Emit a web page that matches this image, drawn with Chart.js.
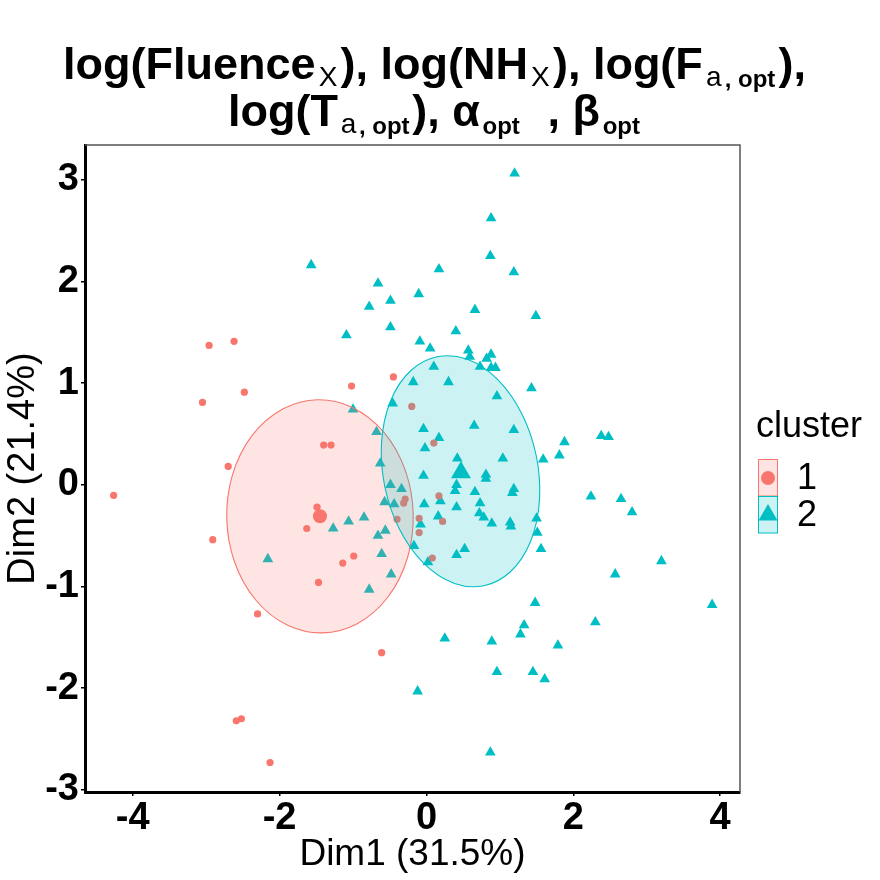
<!DOCTYPE html>
<html>
<head>
<meta charset="utf-8">
<script src="https://cdn.jsdelivr.net/npm/chart.js@4.4.1/dist/chart.umd.min.js"></script>
<style>
  html, body { margin: 0; padding: 0; background: #fff; }
  #wrap { position: relative; width: 880px; height: 880px; }
</style>
</head>
<body>
<div id="wrap"><canvas id="pcaChart" width="880" height="880"></canvas></div>
<script>
// cluster 1 (circles)
const c1x = [-2.96, -2.62, -2.48, -3.05, -1.02, -0.45, -0.20, -1.40, -1.30, -2.70, -4.26, -0.29, -0.31, -0.40, -1.49, -1.63,
    -2.91, -0.99, -1.14, -1.47, -2.30, -0.61, -2.59, -2.52, -2.13, 0.10, 0.17, 0.22, -0.10, -0.10, 0.08];
const c1y = [1.37, 1.41, 0.91, 0.81, 0.97, 1.06, 0.77, 0.39, 0.39, 0.18, -0.105, -0.14, -0.18, -0.34, -0.22, -0.43,
    -0.54, -0.70, -0.77, -0.96, -1.27, -1.65, -2.32, -2.30, -2.73, 0.41, -0.11, -0.36, -0.33, -0.47, -0.72];

// cluster 2 (triangles)
const c2x = [-1.57, -0.66, -0.49, -0.78, -0.49, -1.09, -0.105, 1.20, 0.88, 0.87, 0.17, 1.19, 0.66, 1.49, 0.40, -0.09,
    0.05, 0.57, 0.59, 0.88, 0.82, 0.73, 0.88, 0.94, 0.10, -0.18, 0.30, 1.43, 0.96, -1.00, -0.46, -0.68, -0.63,
    -0.04, 0.65, 1.19, 0.17, -0.02, 2.38, 2.48, 1.88, 1.81, 1.59, 0.42, 1.04,
    -0.04, 0.81, 0.81, 0.41, 0.39, -0.49, -0.34, 0.66, 1.19, 1.17, 0.19, -0.57, -0.44, -0.03, 0.73, 0.41, 0.72,
    0.78, 0.89, 0.16, -0.08, 1.14, 1.15, 1.50, 1.51, 1.56, 0.52, 0.41, -0.17, 0.02,
    -1.27, -1.06, -0.85, -0.66, -0.56, -2.16, -0.61, -0.48, -0.78,
    2.24, 2.65, 2.80, 3.20, 2.57, 3.89, 1.48, 2.30, 1.33, 1.28, 0.25, 0.89, 1.79, 0.96, 1.45, 1.61, -0.12, 0.87];
const c2y = [2.16, 1.98, 1.81, 1.75, 1.55, 1.47, 1.875, 3.06, 2.62, 2.25, 2.12, 2.09, 1.72, 1.66, 1.51, 1.41,
    1.34, 1.32, 1.26, 1.28, 1.24, 1.16, 1.15, 1.15, 1.16, 1.01, 1.01, 0.95, 0.87, 0.74, 0.80, 0.52, 0.21,
    0.55, 0.58, 0.54, 0.46, 0.36, 0.48, 0.47, 0.42, 0.29, 0.25, 0.26, 0.26,
    0.09, 0.10, 0.06, 0.00, -0.06, 0.00, -0.04, -0.07, -0.04, -0.08, -0.16, -0.17, -0.19, -0.19, -0.18, -0.22, -0.28,
    -0.32, -0.38, -0.31, -0.39, -0.37, -0.41, -0.33, -0.47, -0.63, -0.63, -0.69, -0.60, -0.76,
    -0.43, -0.36, -0.32, -0.50, -0.45, -0.73, -0.68, -0.88, -1.03,
    -0.115, -0.14, -0.27, -0.75, -0.88, -1.18, -1.16, -1.35, -1.38, -1.47, -1.51, -1.54, -1.58, -1.84, -1.84, -1.91, -2.03, -2.63];

// cluster centres
const centerX = [-1.45, 0.47];
const centerY = [-0.31, 0.12];

// concentration ellipses: centre, variances and covariance in data units
const ellCx = [-1.45, 0.464];
const ellCy = [-0.31, 0.133];
const ellVarX = [1.613, 1.165];
const ellVarY = [1.313, 1.29];
const ellCov = [-0.015, -0.202];

const xTicks = [-4, -2, 0, 2, 4];
const yTicks = [-3, -2, -1, 0, 1, 2, 3];
const clusterLabels = ["1", "2"];
const colors = ["#F8766D", "#00BFC4"];
const fills = ["rgba(248,118,109,0.2)", "rgba(0,191,196,0.2)"];

const FONT = '"Liberation Sans", Arial, sans-serif';

function pts(xs, ys) {
    return xs.map((x, i) => ({ x: x, y: ys[i] }));
}

// =========================
// ellipses drawn over the points
// =========================
const ellipsePlugin = {
    id: 'ellipses',
    afterDatasetsDraw(chart) {
        const ctx = chart.ctx;
        const xs = chart.scales.x, ys = chart.scales.y;
        const kx = xs.getPixelForValue(1) - xs.getPixelForValue(0);
        const ky = ys.getPixelForValue(0) - ys.getPixelForValue(1);
        ctx.save();
        ctx.beginPath();
        ctx.rect(chart.chartArea.left, chart.chartArea.top, chart.chartArea.width, chart.chartArea.height);
        ctx.clip();
        for (let i = 0; i < ellCx.length; i++) {
            const a = ellVarX[i] * kx * kx;
            const d = ellVarY[i] * ky * ky;
            const b = -ellCov[i] * kx * ky;
            const mid = (a + d) / 2;
            const r = Math.sqrt(((a - d) / 2) ** 2 + b * b);
            const theta = 0.5 * Math.atan2(2 * b, a - d);
            ctx.beginPath();
            ctx.ellipse(xs.getPixelForValue(ellCx[i]), ys.getPixelForValue(ellCy[i]),
                Math.sqrt(mid + r), Math.sqrt(mid - r), theta, 0, Math.PI * 2);
            ctx.fillStyle = fills[i];
            ctx.fill();
            ctx.lineWidth = 1.1;
            ctx.strokeStyle = colors[i];
            ctx.stroke();
        }
        ctx.restore();

        // panel border on top and right
        const ca = chart.chartArea;
        ctx.save();
        ctx.strokeStyle = '#555';
        ctx.lineWidth = 1.5;
        ctx.beginPath();
        ctx.moveTo(ca.left, ca.top);
        ctx.lineTo(ca.right, ca.top);
        ctx.lineTo(ca.right, ca.bottom);
        ctx.stroke();
        ctx.restore();
    }
};

// =========================
// title with subscripts
// =========================
const titleLines = [
    [["log(Fluence", "m"], ["X", "s"], ["), log(NH", "m"], ["X", "s"], ["), log(F", "m"], ["a", "s"], [", opt", "t"], ["),", "m"]],
    [["log(T", "m"], ["a", "s"], [", opt", "t"], ["), α", "m"], ["opt", "t"], ["  , β", "m"], ["opt", "t"]]
];
const titleFonts = {
    m: { font: 'bold 45px ' + FONT, dy: 0 },
    s: { font: '28px ' + FONT, dy: 7 },
    t: { font: 'bold 24px ' + FONT, dy: 8 }
};
const titleSpan = [[63, 806], [228, 640]];
const titleBase = [79, 126];

const titlePlugin = {
    id: 'mathTitle',
    afterDraw(chart) {
        const ctx = chart.ctx;
        ctx.save();
        ctx.fillStyle = '#000';
        ctx.textBaseline = 'alphabetic';
        titleLines.forEach((line, li) => {
            let w = 0;
            line.forEach(([t, k]) => {
                ctx.font = titleFonts[k].font;
                w += ctx.measureText(t).width;
            });
            const [x0, x1] = titleSpan[li];
            const gap = (x1 - x0 - w) / (line.length - 1);
            let x = (x0 + x1) / 2 - (w + gap * (line.length - 1)) / 2;
            line.forEach(([t, k]) => {
                const f = titleFonts[k];
                ctx.font = f.font;
                ctx.fillText(t, x, titleBase[li] + f.dy);
                x += ctx.measureText(t).width + gap;
            });
        });
        ctx.restore();
    }
};

// =========================
// legend: filled key box with symbol
// =========================
const legendPlugin = {
    id: 'clusterLegend',
    afterDraw(chart) {
        const ctx = chart.ctx;
        ctx.save();
        ctx.fillStyle = '#000';
        ctx.font = '36px ' + FONT;
        ctx.textBaseline = 'alphabetic';
        ctx.fillText('cluster', 756, 437);
        clusterLabels.forEach((lab, i) => {
            const top = 459.5 + i * 37;
            ctx.fillStyle = fills[i];
            ctx.fillRect(758.5, top, 19, 36.5);
            ctx.strokeStyle = colors[i];
            ctx.lineWidth = 1;
            ctx.strokeRect(758.5, top, 19, 36.5);
            ctx.fillStyle = colors[i];
            const cx = 768, cy = top + 18.5;
            ctx.beginPath();
            if (i === 0) {
                ctx.arc(cx, cy, 7, 0, Math.PI * 2);
            } else {
                const r = 11;
                ctx.moveTo(cx, cy - r);
                ctx.lineTo(cx + r * Math.sin(Math.PI * 2 / 3), cy + r / 2);
                ctx.lineTo(cx - r * Math.sin(Math.PI * 2 / 3), cy + r / 2);
                ctx.closePath();
            }
            ctx.fill();
            ctx.fillStyle = '#000';
            ctx.font = '36px ' + FONT;
            ctx.textBaseline = 'middle';
            ctx.fillText(lab, 797, cy + 1);
        });
        ctx.restore();
    }
};

const ctxEl = document.getElementById('pcaChart');
new Chart(ctxEl.getContext('2d'), {
    type: 'scatter',
    data: {
        datasets: [
            { label: '1', data: pts(c1x, c1y), pointStyle: 'circle', pointRadius: 3.6, backgroundColor: colors[0], borderWidth: 0 },
            { label: '2', data: pts(c2x, c2y), pointStyle: 'triangle', pointRadius: 6.2, backgroundColor: colors[1], borderWidth: 0 },
            { label: 'c1', data: [{ x: centerX[0], y: centerY[0] }], pointStyle: 'circle', pointRadius: 7, backgroundColor: colors[0], borderWidth: 0 },
            { label: 'c2', data: [{ x: centerX[1], y: centerY[1] }], pointStyle: 'triangle', pointRadius: 11.5, backgroundColor: colors[1], borderWidth: 0 }
        ]
    },
    options: {
        responsive: false,
        devicePixelRatio: 1,
        animation: false,
        layout: { padding: { top: 145, right: 140, left: 0, bottom: 0 } },
        plugins: {
            legend: { display: false },
            tooltip: { enabled: false }
        },
        elements: { point: { hoverRadius: 0 } },
        scales: {
            x: {
                type: 'linear',
                min: -4.65,
                max: 4.27,
                afterBuildTicks: s => { s.ticks = xTicks.map(v => ({ value: v })); },
                afterFit: s => { s.height = 88; },
                ticks: { color: '#000', font: { family: FONT, size: 38, weight: 'bold' }, padding: 0, maxRotation: 0 },
                grid: { display: true, drawOnChartArea: false, drawTicks: true, tickLength: 4, color: '#000', lineWidth: 1.5 },
                border: { display: true, color: '#000', width: 3 },
                title: { display: true, text: 'Dim1 (31.5%)', color: '#000', font: { family: FONT, size: 37 }, padding: { top: 0, bottom: 3 } }
            },
            y: {
                type: 'linear',
                min: -3.02,
                max: 3.34,
                afterBuildTicks: s => { s.ticks = yTicks.map(v => ({ value: v })); },
                afterFit: s => { s.width = 85; },
                ticks: { color: '#000', font: { family: FONT, size: 38, weight: 'bold' }, padding: 2 },
                grid: { display: true, drawOnChartArea: false, drawTicks: true, tickLength: 4, color: '#000', lineWidth: 1.5 },
                border: { display: true, color: '#000', width: 3 },
                title: { display: true, text: 'Dim2 (21.4%)', color: '#000', font: { family: FONT, size: 38 }, padding: { top: 1, bottom: 0 } }
            }
        }
    },
    plugins: [ellipsePlugin, titlePlugin, legendPlugin]
});
</script>
</body>
</html>
